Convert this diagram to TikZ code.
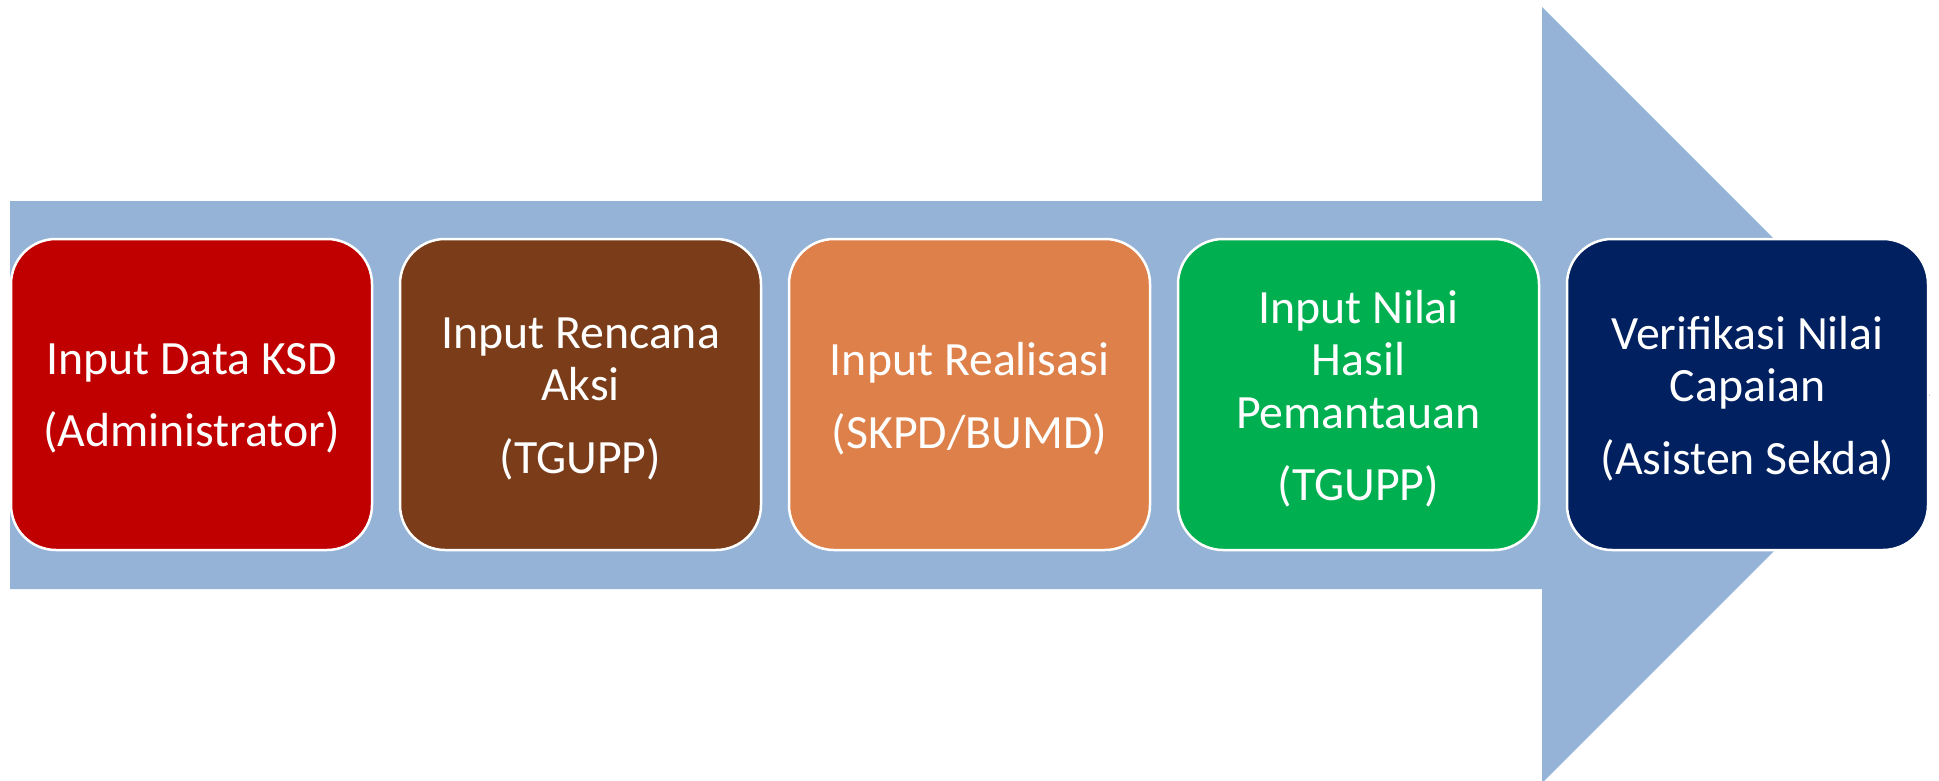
\documentclass[tikz,border=0pt]{standalone}
\usepackage{fontspec}
\setmainfont{Carlito}
\definecolor{arrowblue}{HTML}{95B3D7}
\definecolor{c1}{HTML}{C00000}
\definecolor{c2}{HTML}{7B3C19}
\definecolor{c3}{HTML}{DE8049}
\definecolor{c4}{HTML}{00B050}
\definecolor{c5}{HTML}{002060}
\begin{document}
\begin{tikzpicture}[x=1pt,y=-1pt,
  stepbox/.style={draw=white, line width=2.5pt, rounded corners=45pt,
    minimum width=361pt, minimum height=311pt, inner sep=0pt},
  steptext/.style={inner sep=0pt, align=center, text=white,
    font=\fontsize{47.8}{52.5}\selectfont}]
\useasboundingbox (0,0) rectangle (1939,781);
\clip (0,0) rectangle (1939,781);
\fill[arrowblue] (10,201) -- (1542,201) -- (1542,7) -- (1930,395)
  -- (1542,783) -- (1542,589) -- (10,589) -- cycle;
\node[stepbox, fill=c1] (b1) at (191.5,394.5) {};
\node[stepbox, fill=c2] (b2) at (580.5,394.5) {};
\node[stepbox, fill=c3] (b3) at (969.5,394.5) {};
\node[stepbox, fill=c4] (b4) at (1358.5,394.5) {};
\node[stepbox, fill=c5] (b5) at (1747.5,394.5) {};
\node[steptext] (t1) at ([yshift=-4pt]b1.center) {Input Data KSD\\[20pt](Administrator)};
\node[steptext] (t2) at ([yshift=-4pt]b2.center) {Input Rencana\\Aksi\\[20pt](TGUPP)};
\node[steptext] (t3) at ([yshift=-4pt]b3.center) {Input Realisasi\\[20pt](SKPD/BUMD)};
\node[steptext] (t4) at ([yshift=-4pt]b4.center) {Input Nilai\\Hasil\\Pemantauan\\[20pt](TGUPP)};
\node[steptext] (t5) at ([yshift=-4pt]b5.center) {Verifikasi Nilai\\Capaian\\[20pt](Asisten Sekda)};
\end{tikzpicture}
\end{document}
